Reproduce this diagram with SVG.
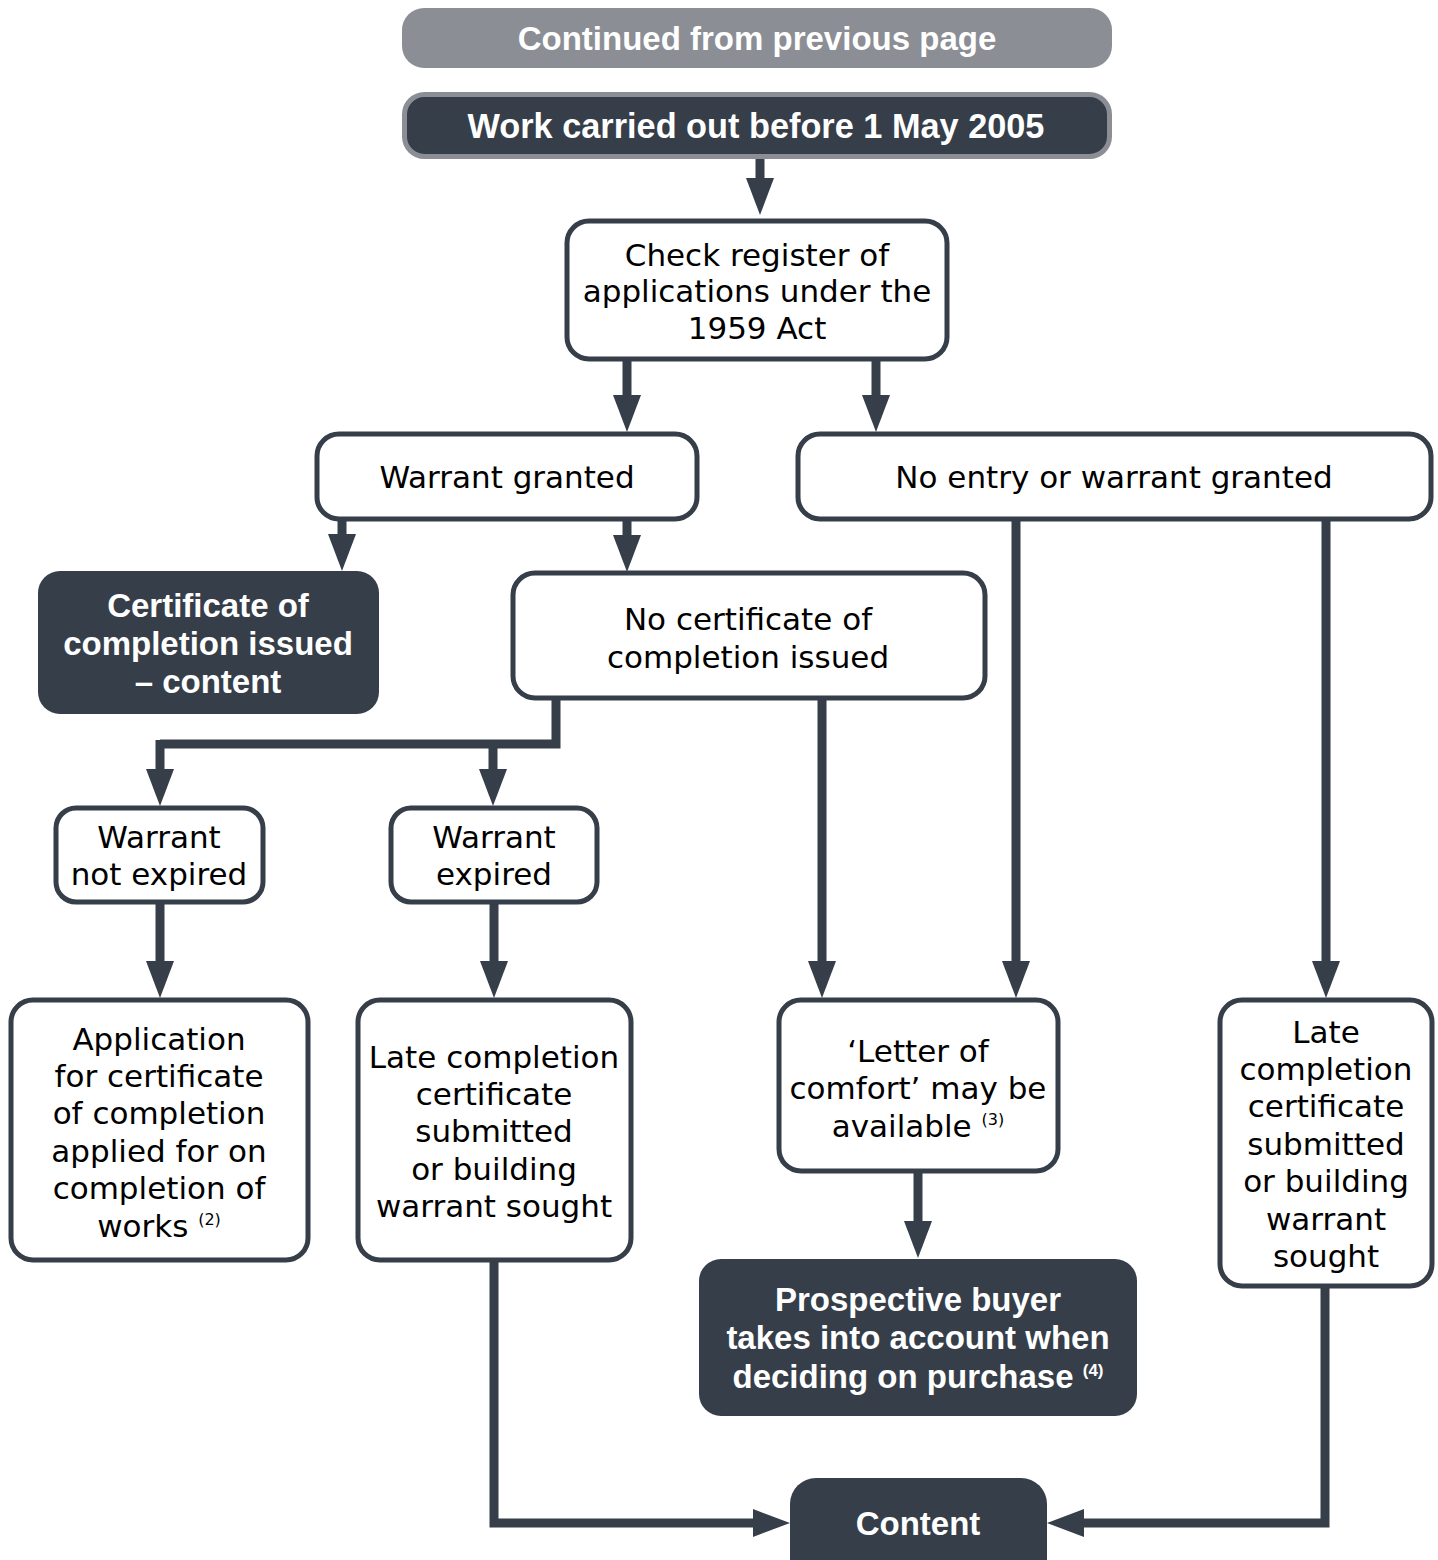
<svg xmlns="http://www.w3.org/2000/svg" width="1438" height="1560" viewBox="0 0 1438 1560">
<defs>
<style>
.box{fill:#ffffff;stroke:#353e49;stroke-width:5}
.dark{fill:#353e49}
.t{font-family:"DejaVu Sans","Liberation Sans",sans-serif;font-size:31px;fill:#000;text-anchor:middle}
.b{font-family:"Liberation Sans","DejaVu Sans",sans-serif;font-weight:bold;font-size:33px;fill:#ffffff;text-anchor:middle}
.sup{font-size:16px}
.bsup{font-size:17px}
.c{fill:none;stroke:#353e49;stroke-width:9;marker-end:url(#ah)}
.cn{fill:none;stroke:#353e49;stroke-width:9}
</style>
<marker id="ah" markerUnits="userSpaceOnUse" markerWidth="38" markerHeight="28" refX="0" refY="14" orient="auto">
<path d="M0,0 L37,14 L0,28 z" fill="#353e49"/>
</marker>
</defs>
<rect width="1438" height="1560" fill="#ffffff"/>

<g id="connectors">
<path class="c" d="M760,158 V178"/>
<path class="c" d="M627,360 V395"/>
<path class="c" d="M876,360 V395"/>
<path class="c" d="M342,520 V534"/>
<path class="c" d="M627,520 V535"/>
<path class="cn" d="M556,699 V744 H160"/>
<path class="c" d="M160,740 V769"/>
<path class="c" d="M493,744 V769"/>
<path class="c" d="M822,699 V961"/>
<path class="c" d="M1016,520 V961"/>
<path class="c" d="M1326,520 V961"/>
<path class="c" d="M160,903 V961"/>
<path class="c" d="M494,903 V961"/>
<path class="c" d="M918,1172 V1221"/>
<path class="c" d="M494,1261 V1523 H753"/>
<path class="c" d="M1325,1287 V1523 H1084"/>
</g>

<g id="n-continued">
<rect x="402" y="8" width="710" height="60" rx="22" fill="#8b8e94"/>
<text class="b" x="757" y="50">Continued from previous page</text>
</g>

<g id="n-work">
<rect x="404.5" y="94.5" width="705" height="62" rx="20" fill="#353e49" stroke="#8b8e94" stroke-width="5"/>
<text class="b" x="756" y="138" style="font-size:34.3px">Work carried out before 1 May 2005</text>
</g>

<g id="n-check">
<rect class="box" x="567" y="221" width="380" height="138" rx="22"/>
<text class="t" x="757" y="266">Check register of</text>
<text class="t" x="757" y="302">applications under the</text>
<text class="t" x="757" y="339">1959 Act</text>
</g>

<g id="n-warrant-granted">
<rect class="box" x="317" y="434" width="380" height="85" rx="22"/>
<text class="t" x="507" y="488">Warrant granted</text>
</g>

<g id="n-no-entry">
<rect class="box" x="798" y="434" width="633" height="85" rx="22"/>
<text class="t" x="1114" y="488">No entry or warrant granted</text>
</g>

<g id="n-cert-issued">
<rect class="dark" x="38" y="571" width="341" height="143" rx="22"/>
<text class="b" x="208" y="617">Certificate of</text>
<text class="b" x="208" y="655">completion issued</text>
<text class="b" x="208" y="693">– content</text>
</g>

<g id="n-no-cert">
<rect class="box" x="513" y="573" width="472" height="125" rx="22"/>
<text class="t" x="748" y="630">No certificate of</text>
<text class="t" x="748" y="668">completion issued</text>
</g>

<g id="n-not-expired">
<rect class="box" x="56" y="808" width="207" height="94" rx="20"/>
<text class="t" x="159" y="848">Warrant</text>
<text class="t" x="159" y="885">not expired</text>
</g>

<g id="n-expired">
<rect class="box" x="391" y="808" width="206" height="94" rx="20"/>
<text class="t" x="494" y="848">Warrant</text>
<text class="t" x="494" y="885">expired</text>
</g>

<g id="n-application">
<rect class="box" x="11" y="1000" width="297" height="260" rx="22"/>
<text class="t" x="159" y="1050">Application</text>
<text class="t" x="159" y="1087">for certificate</text>
<text class="t" x="159" y="1124">of completion</text>
<text class="t" x="159" y="1162">applied for on</text>
<text class="t" x="159" y="1199">completion of</text>
<text class="t" x="159" y="1237">works <tspan class="sup" dy="-12">(2)</tspan></text>
</g>

<g id="n-late-left">
<rect class="box" x="358" y="1000" width="273" height="260" rx="22"/>
<text class="t" x="494" y="1068">Late completion</text>
<text class="t" x="494" y="1105">certificate</text>
<text class="t" x="494" y="1142">submitted</text>
<text class="t" x="494" y="1180">or building</text>
<text class="t" x="494" y="1217">warrant sought</text>
</g>

<g id="n-letter">
<rect class="box" x="779" y="1000" width="279" height="171" rx="22"/>
<text class="t" x="918" y="1062">‘Letter of</text>
<text class="t" x="918" y="1099">comfort’ may be</text>
<text class="t" x="918" y="1137">available <tspan class="sup" dy="-12">(3)</tspan></text>
</g>

<g id="n-buyer">
<rect class="dark" x="699" y="1259" width="438" height="157" rx="22"/>
<text class="b" x="918" y="1311">Prospective buyer</text>
<text class="b" x="918" y="1349">takes into account when</text>
<text class="b" x="918" y="1388">deciding on purchase <tspan class="bsup" dy="-12">(4)</tspan></text>
</g>

<g id="n-late-right">
<rect class="box" x="1220" y="1000" width="212" height="286" rx="22"/>
<text class="t" x="1326" y="1043">Late</text>
<text class="t" x="1326" y="1080">completion</text>
<text class="t" x="1326" y="1117">certificate</text>
<text class="t" x="1326" y="1155">submitted</text>
<text class="t" x="1326" y="1192">or building</text>
<text class="t" x="1326" y="1230">warrant</text>
<text class="t" x="1326" y="1267">sought</text>
</g>

<g id="n-content">
<rect class="dark" x="790" y="1478" width="257" height="110" rx="26"/>
<text class="b" x="918" y="1535">Content</text>
</g>
</svg>
